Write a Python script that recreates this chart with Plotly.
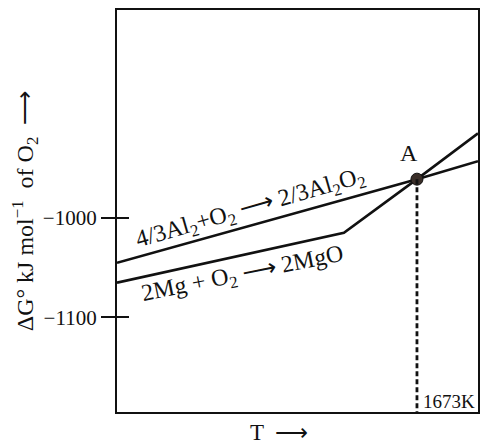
import plotly.graph_objects as go

# Data (T in K, ΔG° in kJ mol^-1 of O2)
al_T = [400, 1673, 1932]
al_G = [-1045, -961, -943]
mg_T = [400, 1363, 1673, 1932]
mg_G = [-1065, -1015, -961, -915]
point_A_T = [1673]
point_A_G = [-961]
y_ticks = [-1000, -1100]
y_tick_labels = ["\u22121000", "\u22121100"]
x_range = [400, 1932]
y_range = [-1195, -791]

FONT = "Liberation Serif, Times New Roman, serif"
BLACK = "#111111"

fig = go.Figure()
fig.add_trace(go.Scatter(x=al_T, y=al_G, mode="lines",
                         line=dict(color=BLACK, width=2.6), showlegend=False, hoverinfo="skip"))
fig.add_trace(go.Scatter(x=mg_T, y=mg_G, mode="lines",
                         line=dict(color=BLACK, width=2.6), showlegend=False, hoverinfo="skip"))
# dashed drop line from A to the T axis
fig.add_trace(go.Scatter(x=[point_A_T[0], point_A_T[0]], y=[point_A_G[0], y_range[0]], mode="lines",
                         line=dict(color=BLACK, width=2.8, dash="5px,3px"), yaxis="y2",
                         showlegend=False, hoverinfo="skip"))
fig.add_trace(go.Scatter(x=point_A_T, y=point_A_G, mode="markers",
                         marker=dict(size=12, color="#3a2e28", line=dict(color="#111111", width=1)),
                         showlegend=False, hoverinfo="skip"))

fig.update_layout(
    width=492, height=446,
    margin=dict(l=117, r=14, t=8, b=34),
    paper_bgcolor="white", plot_bgcolor="white",
    font=dict(family=FONT, color=BLACK),
    xaxis=dict(range=x_range, showgrid=False, zeroline=False, showticklabels=False, ticks="",
               showline=True, mirror=True, linecolor=BLACK, linewidth=2.2),
    yaxis=dict(range=y_range, showgrid=False, zeroline=False,
               tickvals=y_ticks, ticktext=y_tick_labels, ticks="outside", ticklen=14,
               tickwidth=2, tickcolor=BLACK, tickfont=dict(size=21, family=FONT),
               showline=True, mirror=True, linecolor=BLACK, linewidth=2.2,
               title=dict(text="\u0394G\u00b0 kJ mol<sup>\u22121</sup>  of O<sub>2</sub>  \u27f6",
                          font=dict(size=24, family=FONT), standoff=2)),
    yaxis2=dict(overlaying="y", matches="y", side="left", showgrid=False, zeroline=False,
                tickvals=y_ticks, showticklabels=False, ticks="inside", ticklen=12,
                tickwidth=2, tickcolor=BLACK, showline=False),
)

fig.add_annotation(text="4/3Al<sub>2</sub>+O<sub>2</sub> \u27f6 2/3Al<sub>2</sub>O<sub>2</sub>",
                   x=965, y=-991, xref="x", yref="y", showarrow=False, textangle=-16,
                   font=dict(size=24, family=FONT, color=BLACK))
fig.add_annotation(text="2Mg + O<sub>2</sub> \u27f6 2MgO",
                   x=931, y=-1057, xref="x", yref="y", showarrow=False, textangle=-11.5,
                   font=dict(size=24, family=FONT, color=BLACK))
fig.add_annotation(text="A", x=1640, y=-935, xref="x", yref="y", showarrow=False,
                   font=dict(size=24, family=FONT, color=BLACK))
fig.add_annotation(text="1673K", x=1692, y=-1184, xref="x", yref="y", showarrow=False,
                   xanchor="left", font=dict(size=19, family=FONT, color=BLACK))
fig.add_annotation(text="T  \u27f6", x=0.449, y=-0.052, xref="paper", yref="paper", showarrow=False,
                   yanchor="middle", font=dict(size=23, family=FONT, color=BLACK))

fig.write_html("out.html", config={"displayModeBar": False},
               post_script="document.body.style.margin='0';")
